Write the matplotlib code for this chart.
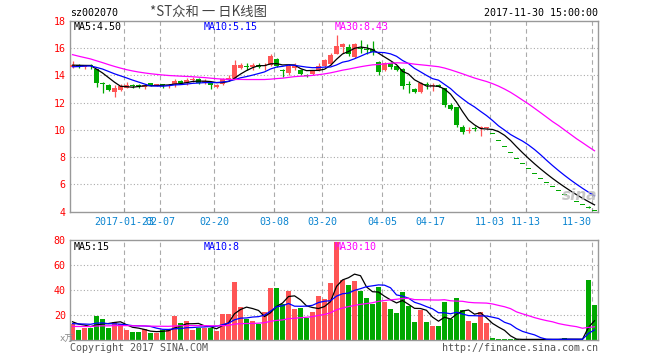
import numpy as np
import pandas as pd
import matplotlib
matplotlib.use('Agg')
import matplotlib.pyplot as plt

# daily bars shown on the chart, oldest first (x position = trading day index)
open_ = [14.60, 14.80, 14.62, 14.72, 14.47, 13.45, 13.30, 12.80, 12.95, 13.10,
         13.30, 13.22, 13.15, 13.42, 13.25, 13.32, 13.25, 13.35, 13.62, 13.42,
         13.65, 13.75, 13.45, 13.45, 13.15, 13.40, 13.65, 13.80, 14.55, 14.65,
         14.60, 14.80, 14.70, 14.80, 15.20, 14.42, 14.20, 14.55, 14.42, 14.02,
         14.13, 14.42, 14.66, 14.85, 15.60, 16.06, 16.09, 15.35, 16.02, 15.95,
         15.95, 15.00, 14.38, 14.90, 14.66, 14.49, 13.34, 13.03, 12.80, 13.35,
         13.20, 13.30, 13.07, 11.85, 11.65, 10.20, 9.95, 10.14, 10.15, 10.18,
         9.69, 9.21, 8.75, 8.31, 7.89, 7.50, 7.12, 6.77, 6.43, 6.11,
         5.80, 5.51, 5.24, 4.97, 4.73, 4.49, 4.27, 4.05]
high = [15.03, 14.85, 14.80, 14.85, 14.50, 13.55, 13.35, 13.30, 13.35, 13.50,
        13.35, 13.40, 13.40, 13.45, 13.40, 13.40, 13.35, 13.75, 13.65, 13.85,
        13.90, 13.80, 13.75, 13.48, 13.35, 13.85, 14.00, 15.15, 14.95, 14.95,
        14.90, 14.90, 14.95, 15.60, 15.30, 14.45, 14.85, 14.95, 14.50, 14.10,
        14.40, 14.95, 15.20, 15.65, 17.00, 16.40, 16.30, 16.35, 16.60, 16.30,
        16.50, 15.05, 15.00, 15.00, 14.75, 14.55, 13.56, 13.10, 13.50, 13.50,
        13.45, 13.35, 13.10, 12.00, 11.70, 10.35, 10.20, 10.30, 10.32, 10.25,
        9.69, 9.21, 8.75, 8.31, 7.89, 7.50, 7.12, 6.77, 6.43, 6.11,
        5.80, 5.51, 5.24, 4.97, 4.73, 4.49, 4.40, 4.05]
low = [14.55, 14.55, 14.45, 14.50, 13.12, 12.75, 12.85, 12.45, 12.85, 13.05,
       13.10, 13.05, 13.00, 13.20, 13.20, 13.10, 13.05, 13.15, 13.40, 13.30,
       13.55, 13.40, 13.40, 13.02, 13.10, 13.30, 13.60, 13.75, 14.45, 14.40,
       14.40, 14.55, 14.40, 14.70, 14.65, 13.88, 14.05, 14.40, 14.05, 13.90,
       14.00, 14.30, 14.60, 14.80, 15.55, 15.65, 15.40, 15.30, 15.65, 15.55,
       15.50, 14.05, 14.30, 14.45, 14.30, 13.02, 12.70, 12.75, 12.75, 13.00,
       12.85, 13.12, 11.68, 11.45, 10.25, 9.70, 9.75, 9.95, 9.57, 10.10,
       9.69, 9.21, 8.75, 8.31, 7.89, 7.50, 7.12, 6.77, 6.43, 6.11,
       5.80, 5.51, 5.24, 4.97, 4.73, 4.49, 4.27, 4.05]
close = [14.80, 14.65, 14.75, 14.68, 13.45, 13.40, 12.95, 13.05, 13.20, 13.30,
         13.20, 13.20, 13.32, 13.25, 13.35, 13.30, 13.32, 13.62, 13.42, 13.70,
         13.75, 13.45, 13.60, 13.28, 13.32, 13.75, 13.85, 14.80, 14.80, 14.60,
         14.80, 14.62, 14.80, 15.45, 14.70, 14.30, 14.70, 14.70, 14.13, 13.95,
         14.37, 14.71, 15.15, 15.52, 16.20, 16.33, 15.60, 16.33, 15.98, 15.90,
         15.70, 14.27, 14.95, 14.62, 14.42, 13.26, 13.30, 12.82, 13.44, 13.30,
         13.30, 13.15, 11.85, 11.55, 10.37, 9.85, 10.00, 10.10, 10.20, 10.20,
         9.69, 9.21, 8.75, 8.31, 7.89, 7.50, 7.12, 6.77, 6.43, 6.11,
         5.80, 5.51, 5.24, 4.97, 4.73, 4.49, 4.27, 4.05]
volume = [12.8, 8.0, 9.9, 9.9, 19.5, 16.8, 9.9, 14.1, 12.5, 8.0,
          6.4, 6.4, 8.8, 5.9, 5.9, 7.7, 8.8, 19.5, 13.6, 15.2,
          8.0, 9.9, 9.9, 9.9, 7.2, 20.8, 20.8, 46.4, 26.7, 16.8,
          15.2, 13.1, 22.1, 41.9, 41.9, 28.8, 39.2, 24.8, 25.9, 17.9,
          22.1, 35.2, 32.8, 45.6, 78.7, 48.0, 44.0, 47.2, 39.2, 33.9,
          28.8, 42.7, 30.4, 24.8, 21.6, 38.4, 27.5, 14.4, 24.0, 14.4,
          11.2, 11.2, 30.4, 16.8, 33.6, 24.0, 15.2, 13.6, 22.4, 13.6,
          1.6, 0.5, 0.5, 0.5, 0.5, 0.5, 0.5, 0.5, 0.5, 0.5,
          0.5, 0.5, 1.5, 0.4, 0.4, 0.4, 48.0, 28.0]

# sessions before the window, only used to seed the moving averages
pre_close = [18.0, 17.8, 17.7, 17.6, 17.4, 17.3, 17.1, 16.9, 16.7,
             16.0, 15.6, 15.3, 15.0, 14.8, 14.6, 14.5,
             14.3, 14.2, 14.3, 14.4,
             14.5, 14.4, 14.6, 14.5, 14.6, 14.7, 14.8, 14.7, 14.8]
pre_volume = [9, 11, 10, 8, 12, 10, 9, 11, 10, 9, 8, 10, 12, 9, 8,
              10, 11, 9, 10, 9, 10, 11, 12, 10, 15, 17, 14, 16, 13]

tick_idx = [9, 15, 24, 34, 42, 52, 60, 70, 76, 87]
tick_labels = ['2017-01-23', '02-07', '02-20', '03-08', '03-20',
               '04-05', '04-17', '11-03', '11-13', '11-30']
price_ticks = [4, 6, 8, 10, 12, 14, 16, 18]
vol_ticks = [20, 40, 60, 80]

RED = '#ff5555'
GREEN = '#00a800'
GRID = '#aaaaaa'
MONO = 'DejaVu Sans Mono'

n = len(close)
x = np.arange(n)
o = np.array(open_); c = np.array(close)
prev = np.r_[pre_close[-1], c[:-1]]
up = (c > o) | ((c == o) & (c >= prev))
cols = np.where(up, RED, GREEN)

cs = pd.Series(pre_close + close)
vs = pd.Series(pre_volume + volume)
ma = {k: cs.rolling(k).mean().values[-n:] for k in (5, 10, 30)}
vma = {k: vs.rolling(k).mean().values[-n:] for k in (5, 10, 30)}

fig = plt.figure(figsize=(6.6, 3.6), dpi=100)
W, H = 660, 360
ax = fig.add_axes([70 / W, 1 - 211.7 / H, 527.7 / W, 190.7 / H])
axv = fig.add_axes([70 / W, 1 - 340 / H, 527.7 / W, 100 / H])

xl = (-0.42, 87.53)
for a in (ax, axv):
    a.set_xlim(*xl)
    for s in a.spines.values():
        s.set_color('#999999')
        s.set_linewidth(1)
    for t in tick_idx:
        a.axvline(t - 0.42, color=GRID, lw=0.8, ls=(0, (4, 3)), zorder=0)

# price panel
for p in price_ticks[1:-1]:
    ax.axhline(p, color=GRID, lw=0.8, ls=(0, (1, 2)), zorder=0)
ax.vlines(x, low, high, colors=cols, lw=0.9, zorder=2)
body_lo = np.minimum(o, c)
body_h = np.maximum(np.abs(c - o), 0.07)
ax.bar(x, body_h, bottom=body_lo, width=0.8, color=cols, lw=0, zorder=3)
ax.plot(x, ma[5], color='black', lw=0.9, zorder=4)
ax.plot(x, ma[10], color='#0000ff', lw=0.9, zorder=4)
ax.plot(x, ma[30], color='#ff00ff', lw=0.9, zorder=4)
ax.set_ylim(4, 18)
ax.set_yticks(price_ticks)
ax.set_yticklabels([str(p) for p in price_ticks], color='red', fontsize=7.2, family=MONO)
ax.set_xticks([t - 0.42 for t in tick_idx])
ax.set_xticklabels(tick_labels, color='#0a84d0', fontsize=7.2, family=MONO)
ax.get_xticklabels()[-1].set_ha('right')
ax.tick_params(axis='x', direction='in', length=3, color='#999999', pad=4)
ax.tick_params(axis='y', length=0, pad=3)

# volume panel
for v in vol_ticks[:-1]:
    axv.axhline(v, color=GRID, lw=0.8, ls=(0, (1, 2)), zorder=0)
axv.bar(x, volume, width=0.83, color=cols, lw=0, zorder=2)
axv.plot(x, vma[5], color='black', lw=0.9, zorder=4)
axv.plot(x, vma[10], color='#0000ff', lw=0.9, zorder=4)
axv.plot(x, vma[30], color='#ff00ff', lw=0.9, zorder=4)
axv.set_ylim(0, 80)
axv.set_yticks(vol_ticks)
axv.set_yticklabels([str(v) for v in vol_ticks], color='red', fontsize=7.2, family=MONO)
axv.set_xticks([])
axv.tick_params(axis='y', length=0, pad=3)


def ftext(px, py, s, **kw):
    kw.setdefault('fontsize', 7.2)
    kw.setdefault('family', MONO)
    fig.text(px / W, 1 - py / H, s, va='center', **kw)


ftext(70, 13, 'sz002070', color='black')
ftext(150, 12, '*ST众和 一 日K线图', color='#444444', fontsize=9.6,
      family=['Noto Sans CJK SC', 'DejaVu Sans'])
ftext(598, 13, '2017-11-30 15:00:00', color='black', ha='right')
ftext(74, 27, 'MA5:4.50', color='black')
ftext(204, 27, 'MA10:5.15', color='#0000ff')
ftext(335, 27, 'MA30:8.43', color='#ff00ff')
ftext(74, 247, 'MA5:15', color='black')
ftext(204, 247, 'MA10:8', color='#0000ff')
ftext(335, 247, 'MA30:10', color='#ff00ff')
ftext(60, 339, 'x万', color='#888888', fontsize=6.5,
      family=[MONO, 'Noto Sans CJK SC'])
ftext(70, 348, 'Copyright 2017 SINA.COM', color='#555555')
ftext(598, 348, 'http://finance.sina.com.cn', color='#555555', ha='right')
ftext(580, 196, 'sina', color='#bbbbbb', fontsize=11, family='DejaVu Sans',
      style='italic', fontweight='bold', ha='center', alpha=0.8)

fig.savefig('out.png', dpi=100, facecolor='white')
